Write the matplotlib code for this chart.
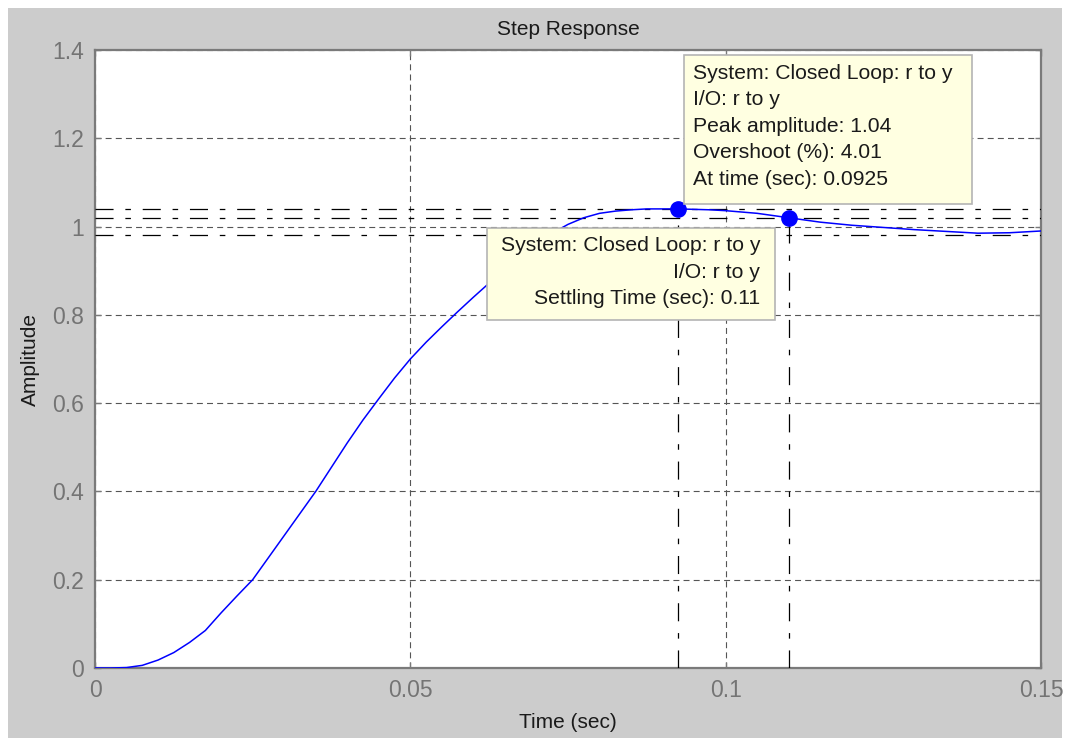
import matplotlib
matplotlib.use("Agg")
import matplotlib.pyplot as plt
from matplotlib.patches import Rectangle

# step response samples (time in sec, amplitude)
time_s = [0, 0.0025, 0.005, 0.0075, 0.01, 0.0125, 0.015, 0.0175, 0.02, 0.0225,
          0.025, 0.0275, 0.03, 0.0325, 0.035, 0.0375, 0.04, 0.0425, 0.045, 0.0475,
          0.05, 0.0525, 0.055, 0.0575, 0.06, 0.0625, 0.065, 0.0675, 0.07, 0.0725,
          0.075, 0.0775, 0.08, 0.0825, 0.085, 0.0875, 0.09, 0.0925, 0.095, 0.0975,
          0.1, 0.105, 0.11, 0.115, 0.12, 0.125, 0.13, 0.135, 0.14, 0.145, 0.15]
amplitude = [0, 0, 0.001, 0.006, 0.018, 0.035, 0.058, 0.085, 0.125, 0.163,
             0.2, 0.25, 0.3, 0.35, 0.4, 0.455, 0.51, 0.562, 0.61, 0.657,
             0.70, 0.738, 0.773, 0.807, 0.84, 0.872, 0.905, 0.935, 0.962, 0.985,
             1.005, 1.02, 1.03, 1.035, 1.038, 1.04, 1.04, 1.04, 1.039, 1.038,
             1.036, 1.03, 1.02, 1.01, 1.003, 0.998, 0.993, 0.989, 0.985, 0.986, 0.99]

peak_time = 0.0925
peak_amp = 1.04
overshoot_pct = 4.01
settling_time = 0.11
settling_amp = 1.02
settling_band = [0.98, 1.02]

xticks = [0, 0.05, 0.1, 0.15]
xtick_labels = ["0", "0.05", "0.1", "0.15"]
yticks = [0, 0.2, 0.4, 0.6, 0.8, 1.0, 1.2, 1.4]
ytick_labels = ["0", "0.2", "0.4", "0.6", "0.8", "1", "1.2", "1.4"]

plt.rcParams["font.family"] = ["Liberation Sans", "DejaVu Sans"]
plt.rcParams["lines.scale_dashes"] = False

W, H = 1067, 738
fig = plt.figure(figsize=(W / 100, H / 100), dpi=100, facecolor="white")
# gray window panel
fig.patches.append(Rectangle((8 / W, 0), (1062 - 8) / W, (H - 8) / H,
                             transform=fig.transFigure, facecolor="#cccccc",
                             edgecolor="none", zorder=-10))

ax = fig.add_axes([95 / W, 1 - 668 / H, (1041 - 95) / W, (668 - 50) / H])
ax.set_facecolor("white")

spine_col = "#7a7a7a"
for s in ax.spines.values():
    s.set_color(spine_col)
    s.set_linewidth(1.6)

ax.set_xlim(0, 0.15)
ax.set_ylim(0, 1.4)
ax.set_xticks(xticks)
ax.set_xticklabels(xtick_labels)
ax.set_yticks(yticks)
ax.set_yticklabels(ytick_labels)
ax.tick_params(direction="in", length=4, width=1, colors=spine_col,
               labelsize=16.5, labelcolor="#747474", top=True, right=True, pad=8)

ax.grid(True, color="#555555", linestyle=(0, (4.3, 3)), linewidth=0.8)

dashdot = (0, (13, 8.5, 4, 8.5))
# peak and settling reference lines
ax.axhline(peak_amp, color="black", linestyle=dashdot, linewidth=0.9, zorder=3)
for level in settling_band:
    ax.axhline(level, color="black", linestyle=dashdot, linewidth=0.9, zorder=3)
ax.plot([peak_time, peak_time], [0, peak_amp], color="black",
        linestyle=dashdot, linewidth=0.9, zorder=3)
ax.plot([settling_time, settling_time], [0, settling_amp], color="black",
        linestyle=dashdot, linewidth=0.9, zorder=3)

ax.plot(time_s, amplitude, color="#0000ff", linewidth=1.1, zorder=4)
ax.plot([peak_time, settling_time], [peak_amp, settling_amp], "o",
        color="#0000ff", markersize=11, zorder=5)

ax.set_title("Step Response", fontsize=15, color="#1a1a1a", pad=11)
ax.set_xlabel("Time (sec)", fontsize=15, color="#1a1a1a", labelpad=8)
ax.set_ylabel("Amplitude", fontsize=15, color="#1a1a1a", labelpad=9)

# data tip boxes
box_face = "#ffffe1"
box_edge = "#b4b4b4"

def tip_box(x0, y0, x1, y1):
    ax.add_patch(Rectangle((x0, y0), x1 - x0, y1 - y0, transform=ax.transAxes,
                           facecolor=box_face, edgecolor=box_edge,
                           linewidth=1.2, zorder=10, clip_on=False))

tip_box(0.6226, 0.7508, 0.927, 0.9919)
peak_lines = [
    "System: Closed Loop: r to y",
    "I/O: r to y",
    f"Peak amplitude: {peak_amp:.2f}",
    f"Overshoot (%): {overshoot_pct:.2f}",
    f"At time (sec): {peak_time}",
]
ax.text(0.6326, 0.9775, "\n".join(peak_lines), transform=ax.transAxes,
        ha="left", va="top", fontsize=15.2, color="#1a1a1a",
        linespacing=1.5, zorder=11)

tip_box(0.4144, 0.563, 0.7188, 0.712)
settle_lines = [
    "System: Closed Loop: r to y",
    "I/O: r to y",
    f"Settling Time (sec): {settling_time}",
]
ax.text(0.7030, 0.699, "\n".join(settle_lines), transform=ax.transAxes,
        ha="right", va="top", fontsize=15.2, color="#1a1a1a",
        linespacing=1.5, multialignment="right", zorder=11)

fig.savefig("out.png", dpi=100, facecolor=fig.get_facecolor())
